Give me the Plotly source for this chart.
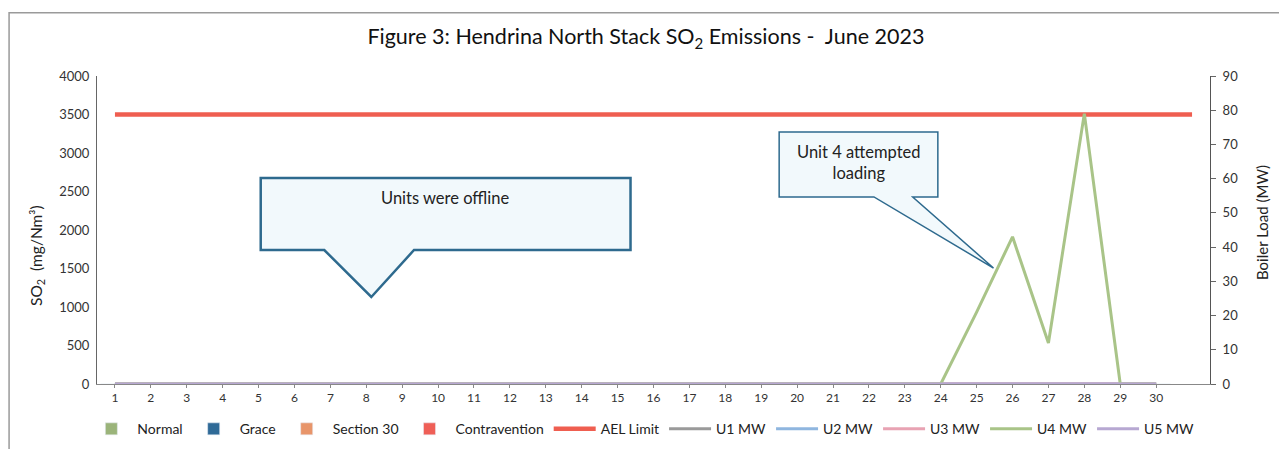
import plotly.graph_objects as go

# ---------------- data ----------------
days = list(range(1, 31))
day_labels = [str(d) for d in days]
ael_days = list(range(1, 32))
ael_limit = [3500] * 31

so2_normal = [0] * 30
so2_grace = [0] * 30
so2_section30 = [0] * 30
so2_contravention = [0] * 30

u1_mw = [0] * 30
u2_mw = [0] * 30
u3_mw = [0] * 30
u4_mw = [0] * 23 + [0, 21, 43, 12, 79, 0, 0]
u5_mw = [0] * 30

FONT = "Lato"

fig = go.Figure()

bar_series = [
    ("Normal", so2_normal, "#9bb47a"),
    ("Grace", so2_grace, "#2f6a97"),
    ("Section 30", so2_section30, "#e8956a"),
    ("Contravention", so2_contravention, "#ef5f57"),
]
for name, vals, col in bar_series:
    fig.add_trace(go.Bar(x=days, y=vals, name=name, marker_color=col, yaxis="y"))

fig.add_trace(go.Scatter(x=ael_days, y=ael_limit, name="AEL Limit", mode="lines",
                         line=dict(color="#ef5e50", width=4.5), yaxis="y"))

line_series = [
    ("U1 MW", u1_mw, "#9a9a9a"),
    ("U2 MW", u2_mw, "#8fb6df"),
    ("U3 MW", u3_mw, "#e8a3b3"),
    ("U4 MW", u4_mw, "#a9c488"),
    ("U5 MW", u5_mw, "#b7a8d2"),
]
for name, vals, col in line_series:
    fig.add_trace(go.Scatter(x=days, y=vals, name=name, mode="lines",
                             line=dict(color=col, width=3), yaxis="y2"))

# ---------------- callouts ----------------
box_fill = "#f2f9fc"
box_line = "#2e6a8e"


def callout(x0, x1, y0, y1, gx0, gx1, tx, ty):
    # rectangle with a pointer from the bottom edge
    return (f"M {x0},{y1} L {x1},{y1} L {x1},{y0} L {gx1},{y0} "
            f"L {tx},{ty} L {gx0},{y0} L {x0},{y0} Z")


shapes = [
    dict(type="path", xref="x", yref="y",
         path=callout(5.06, 15.36, 1740, 2675, 6.83, 9.33, 8.14, 1130),
         fillcolor=box_fill, line=dict(color=box_line, width=2.5), layer="above"),
    dict(type="path", xref="x", yref="y",
         path=callout(19.5, 23.92, 2429, 3273, 22.14, 23.22, 25.47, 1506),
         fillcolor=box_fill, line=dict(color=box_line, width=1.5), layer="above"),
    # outer frame
    dict(type="rect", xref="paper", yref="paper", x0=-0.079, x1=1.08, y0=-0.25, y1=1.205,
         line=dict(color="#9a9a9a", width=1.5), fillcolor="rgba(0,0,0,0)", layer="below"),
]

annotations = [
    dict(x=10.19, y=2416, xref="x", yref="y", text="Units were offline", showarrow=False,
         font=dict(family=FONT, size=16.5, color="#222")),
    dict(x=21.72, y=2880, xref="x", yref="y", text="Unit 4 attempted<br>loading",
         showarrow=False, font=dict(family=FONT, size=16.5, color="#222")),
    # axis titles
    dict(x=-0.0539, y=0.4156, xref="paper", yref="paper", text="SO<sub>2</sub>  (mg/Nm³)",
         textangle=-90, showarrow=False, xanchor="center", yanchor="middle",
         font=dict(family=FONT, size=15.5, color="#222")),
    dict(x=1.0467, y=0.526, xref="paper", yref="paper", text="Boiler Load (MW)",
         textangle=-90, showarrow=False, xanchor="center", yanchor="middle",
         font=dict(family=FONT, size=15, color="#222")),
]

fig.update_layout(
    width=1279, height=449,
    margin=dict(l=97, r=69, t=76, b=65, autoexpand=False),
    paper_bgcolor="white", plot_bgcolor="white",
    font=dict(family=FONT, size=12, color="#333"),
    title=dict(text="Figure 3: Hendrina North Stack SO<sub>2</sub> Emissions -  June 2023",
               x=0.505, xref="container", xanchor="center", y=0.918, yanchor="middle",
               font=dict(family=FONT, size=21.5, color="#111")),
    barmode="group",
    showlegend=True,
    legend=dict(orientation="h", x=0.49, xanchor="center", y=-0.095, yanchor="top",
                font=dict(family=FONT, size=14, color="#222"), traceorder="normal",
                itemwidth=42, bgcolor="rgba(0,0,0,0)"),
    xaxis=dict(range=[0.5, 31.5], tickmode="array", tickvals=days, ticktext=day_labels,
               showgrid=False, zeroline=False, showline=True, linecolor="#888",
               ticks="outside", ticklen=3, tickcolor="#888", automargin=False,
               tickfont=dict(family=FONT, size=12, color="#333")),
    yaxis=dict(range=[0, 4000], tickvals=[0, 500, 1000, 1500, 2000, 2500, 3000, 3500, 4000],
               showgrid=False, zeroline=False, showline=True, linecolor="#666",
               ticks="", tickfont=dict(family=FONT, size=13, color="#333"), automargin=False,
               ticklabelstandoff=4),
    yaxis2=dict(range=[0, 90], overlaying="y", side="right", tickvals=list(range(0, 91, 10)),
                showgrid=False, zeroline=False, showline=True, linecolor="#555",
                ticks="outside", ticklen=5, tickcolor="#666", automargin=False,
                ticklabelstandoff=4,
                tickfont=dict(family=FONT, size=13, color="#333")),
    shapes=shapes,
    annotations=annotations,
)

fig.write_html("out.html", config={"displayModeBar": False},
               post_script="document.body.style.margin='0px';")
